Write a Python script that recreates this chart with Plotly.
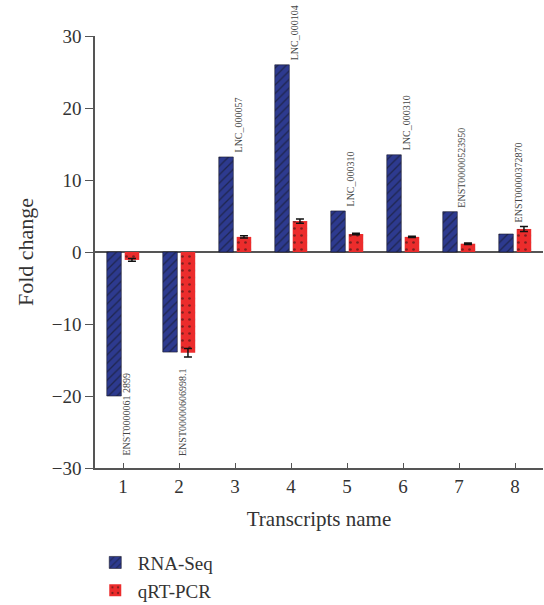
import plotly.graph_objects as go

categories = [1, 2, 3, 4, 5, 6, 7, 8]
transcripts = ["ENST0000061 2899", "ENST00000606998.1", "LNC_000057", "LNC_000104",
               "LNC_000310", "LNC_000310", "ENST00000523950", "ENST00000372870"]
rna_seq = [-20.0, -13.9, 13.2, 26.0, 5.7, 13.5, 5.6, 2.5]
qrt_pcr = [-1.1, -14.0, 2.1, 4.3, 2.5, 2.1, 1.15, 3.2]
qrt_err = [0.2, 0.6, 0.15, 0.3, 0.1, 0.1, 0.1, 0.35]
y_ticks = [-30, -20, -10, 0, 10, 20, 30]

FONT = "Liberation Serif"
AX = "#555555"

fig = go.Figure()
fig.add_trace(go.Bar(
    x=categories, y=rna_seq, name="RNA-Seq",
    marker=dict(color="#2d3a8f", line=dict(color="#1a1a2a", width=0.6),
                pattern=dict(shape="/", fgcolor="#111111", bgcolor="#2d3a8f",
                             size=6, solidity=0.22, fillmode="overlay")),
))
fig.add_trace(go.Bar(
    x=categories, y=qrt_pcr, name="qRT-PCR",
    marker=dict(color="#ec2c2c", line=dict(color="#ec2c2c", width=0),
                pattern=dict(shape=".", fgcolor="#111111", bgcolor="#ec2c2c",
                             size=7, solidity=0.12, fillmode="overlay")),
    error_y=dict(type="data", array=qrt_err, color="#111111", thickness=1.5, width=4),
))

for c, lab, v, p, e in zip(categories, transcripts, rna_seq, qrt_pcr, qrt_err):
    if v >= 0:
        fig.add_annotation(x=c, y=max(v, p + e), text=lab, textangle=-90, showarrow=False,
                           xanchor="center", yanchor="bottom", xshift=3, yshift=2,
                           font=dict(family=FONT, size=10, color="#444444"))
    else:
        fig.add_annotation(x=c, y=-30, text=lab, textangle=-90, showarrow=False,
                           xanchor="center", yanchor="bottom", xshift=3, yshift=10,
                           font=dict(family=FONT, size=10, color="#444444"))

fig.update_layout(
    width=544, height=605,
    margin=dict(l=95, r=1, t=36, b=137, autoexpand=False),
    paper_bgcolor="white", plot_bgcolor="white",
    barmode="group", bargap=0.36, bargroupgap=0.19,
    font=dict(family=FONT, size=18, color="#333333"),
    showlegend=True,
    legend=dict(x=-0.005, y=-0.175, xanchor="left", yanchor="top",
                font=dict(family=FONT, size=19, color="#333333"),
                tracegroupgap=0, itemwidth=35),
)
fig.update_xaxes(
    range=[0.5, 8.5], tickmode="array", tickvals=categories,
    ticktext=[str(c) for c in categories],
    showline=True, linecolor=AX, linewidth=1.5,
    ticks="inside", ticklen=5, tickcolor=AX, tickwidth=1.2,
    showgrid=False, zeroline=False, automargin=False,
    title=dict(text="Transcripts name", font=dict(family=FONT, size=21), standoff=16),
    tickfont=dict(family=FONT, size=19),
)
fig.update_yaxes(
    range=[-30, 30], tickvals=y_ticks, ticktext=["−30", "−20", "−10", "0", "10", "20", "30"],
    showline=True, linecolor=AX, linewidth=1.5,
    ticks="outside", ticklen=8, tickcolor=AX, tickwidth=1.2,
    showgrid=False, zeroline=True, zerolinecolor=AX, zerolinewidth=1.5, automargin=False,
    title=dict(text="Fold change", font=dict(family=FONT, size=22), standoff=12),
    tickfont=dict(family=FONT, size=19),
)

fig.write_html("out.html", config={"displayModeBar": False},
               post_script="document.body.style.margin='0';")
